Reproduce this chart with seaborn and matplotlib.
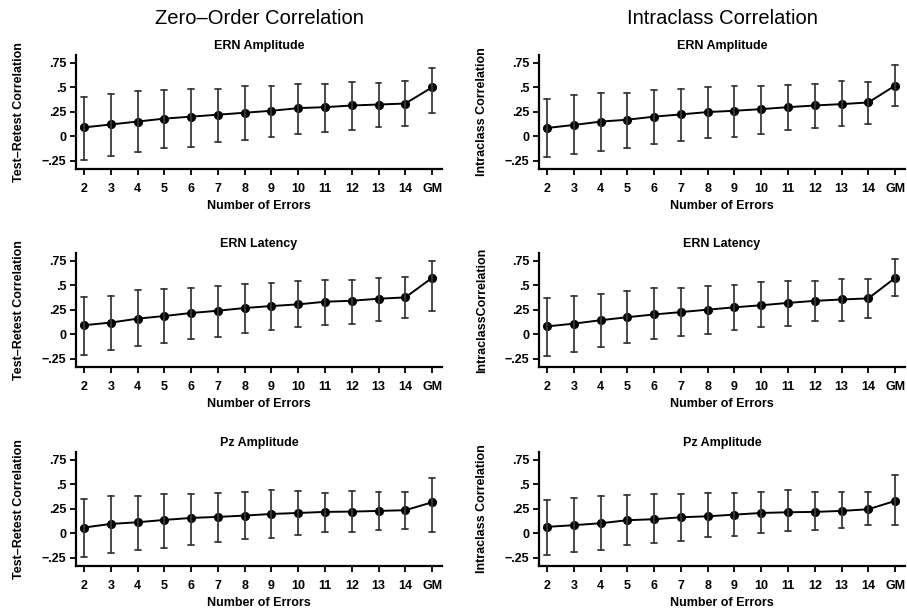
import numpy as np
import pandas as pd
import matplotlib.pyplot as plt
import seaborn as sns

# ======================
# data
# ======================
errors = ["2", "3", "4", "5", "6", "7", "8", "9", "10", "11", "12", "13", "14", "GM"]

# zero-order (test-retest) correlation
zo_amp = [0.09, 0.12, 0.15, 0.18, 0.20, 0.22, 0.24, 0.26, 0.287, 0.297, 0.314, 0.324, 0.334, 0.50]
zo_amp_lo = [-0.24, -0.20, -0.16, -0.12, -0.11, -0.06, -0.034, -0.01, 0.027, 0.044, 0.068, 0.098, 0.108, 0.233]
zo_amp_hi = [0.405, 0.43, 0.466, 0.47, 0.486, 0.486, 0.51, 0.51, 0.53, 0.53, 0.55, 0.547, 0.56, 0.70]

zo_lat = [0.092, 0.119, 0.159, 0.186, 0.217, 0.24, 0.268, 0.288, 0.305, 0.332, 0.342, 0.363, 0.376, 0.576]
zo_lat_lo = [-0.21, -0.163, -0.122, -0.092, -0.05, -0.027, 0.014, 0.04, 0.071, 0.098, 0.108, 0.139, 0.163, 0.24]
zo_lat_hi = [0.383, 0.393, 0.447, 0.458, 0.475, 0.495, 0.512, 0.525, 0.54, 0.556, 0.556, 0.573, 0.583, 0.753]

zo_pz = [0.058, 0.095, 0.112, 0.136, 0.156, 0.167, 0.18, 0.197, 0.207, 0.218, 0.221, 0.228, 0.235, 0.316]
zo_pz_lo = [-0.241, -0.207, -0.167, -0.15, -0.116, -0.088, -0.054, -0.044, -0.017, 0.014, 0.01, 0.03, 0.048, 0.01]
zo_pz_hi = [0.354, 0.384, 0.381, 0.405, 0.405, 0.408, 0.425, 0.439, 0.429, 0.412, 0.429, 0.425, 0.425, 0.565]

# intraclass correlation
icc_amp = [0.084, 0.115, 0.149, 0.169, 0.20, 0.223, 0.247, 0.26, 0.277, 0.297, 0.314, 0.328, 0.345, 0.517]
icc_amp_lo = [-0.213, -0.182, -0.152, -0.118, -0.078, -0.05, -0.02, -0.007, 0.024, 0.06, 0.081, 0.105, 0.122, 0.304]
icc_amp_hi = [0.382, 0.422, 0.443, 0.446, 0.473, 0.48, 0.50, 0.513, 0.517, 0.524, 0.537, 0.56, 0.557, 0.726]

icc_lat = [0.08, 0.108, 0.143, 0.174, 0.202, 0.226, 0.251, 0.275, 0.296, 0.32, 0.341, 0.355, 0.366, 0.575]
icc_lat_lo = [-0.226, -0.181, -0.132, -0.094, -0.052, -0.017, 0.0, 0.042, 0.07, 0.087, 0.132, 0.132, 0.167, 0.39]
icc_lat_hi = [0.366, 0.394, 0.415, 0.443, 0.47, 0.47, 0.493, 0.502, 0.53, 0.54, 0.544, 0.564, 0.568, 0.773]

icc_pz = [0.065, 0.082, 0.102, 0.133, 0.143, 0.163, 0.173, 0.19, 0.207, 0.214, 0.218, 0.228, 0.245, 0.33]
icc_pz_lo = [-0.221, -0.187, -0.167, -0.122, -0.105, -0.082, -0.041, -0.031, 0.0, 0.02, 0.031, 0.051, 0.082, 0.082]
icc_pz_hi = [0.344, 0.361, 0.378, 0.388, 0.398, 0.405, 0.415, 0.408, 0.418, 0.439, 0.422, 0.422, 0.418, 0.599]

yticks = [-0.25, 0, 0.25, 0.5, 0.75]
yticklabels = ["\u2212.25", "0", ".25", ".5", ".75"]

panels = [
    # (row, col, subtitle, ylabel, est, lo, hi)
    (0, 0, "ERN Amplitude", "Test\u2013Retest Correlation", zo_amp, zo_amp_lo, zo_amp_hi),
    (1, 0, "ERN Latency", "Test\u2013Retest Correlation", zo_lat, zo_lat_lo, zo_lat_hi),
    (2, 0, "Pz Amplitude", "Test\u2013Retest Correlation", zo_pz, zo_pz_lo, zo_pz_hi),
    (0, 1, "ERN Amplitude", "Intraclass Correlation", icc_amp, icc_amp_lo, icc_amp_hi),
    (1, 1, "ERN Latency", "IntraclassCorrelation", icc_lat, icc_lat_lo, icc_lat_hi),
    (2, 1, "Pz Amplitude", "Intraclass Correlation", icc_pz, icc_pz_lo, icc_pz_hi),
]
col_titles = ["Zero\u2013Order Correlation", "Intraclass Correlation"]

# ======================
# figure
# ======================
sns.set_style("ticks")
plt.rcParams["font.family"] = ["Liberation Sans", "DejaVu Sans"]
plt.rcParams["text.color"] = "black"
plt.rcParams["axes.labelcolor"] = "black"
plt.rcParams["xtick.color"] = "black"
plt.rcParams["ytick.color"] = "black"

fig = plt.figure(figsize=(9.07, 6.13), dpi=100)
W, H = 907, 613
col_left = [76, 539]
row_top = [55, 253, 452]
ax_w, ax_h = 366, 114

for row, col, sub, ylab, est, lo, hi in panels:
    x0 = col_left[col]
    y0 = row_top[row]
    ax = fig.add_axes([x0 / W, 1 - (y0 + ax_h) / H, ax_w / W, ax_h / H])

    # three values per category: median = estimate, min/max = CI limits
    df = pd.DataFrame({
        "errors": errors * 3,
        "r": list(lo) + list(est) + list(hi),
    })
    sns.pointplot(data=df, x="errors", y="r", order=errors, ax=ax,
                  estimator="median", errorbar=("pi", 100),
                  color="black", markers="o", markersize=5.5, linewidth=1.4,
                  capsize=0.22, err_kws={"color": "#3a3a3a", "linewidth": 1.3})

    ax.set_xlim(-0.3, 13.37)
    ax.set_ylim(-0.335, 0.83)
    ax.set_yticks(yticks)
    ax.set_yticklabels(yticklabels)
    ax.tick_params(axis="both", labelsize=9, length=4, width=1.3, direction="out",
                   color="black", labelcolor="black")
    ax.tick_params(axis="x", pad=6)
    ax.tick_params(axis="y", pad=3)
    for lbl in ax.get_xticklabels() + ax.get_yticklabels():
        lbl.set_fontweight("bold")
    sns.despine(ax=ax)
    for s in ["left", "bottom"]:
        ax.spines[s].set_linewidth(1.6)
        ax.spines[s].set_color("black")

    ax.set_title(sub, fontsize=9, pad=4, fontweight="bold", color="black")
    ax.set_xlabel("Number of Errors", fontsize=9, labelpad=4, fontweight="bold")
    ax.set_ylabel(ylab, fontsize=9, labelpad=12, fontweight="bold")

    if row == 0:
        fig.text((x0 + ax_w / 2) / W, 1 - 18 / H, col_titles[col],
                 ha="center", va="center", fontsize=14.5, color="black")

fig.savefig("out.png", dpi=100)
plt.close()
